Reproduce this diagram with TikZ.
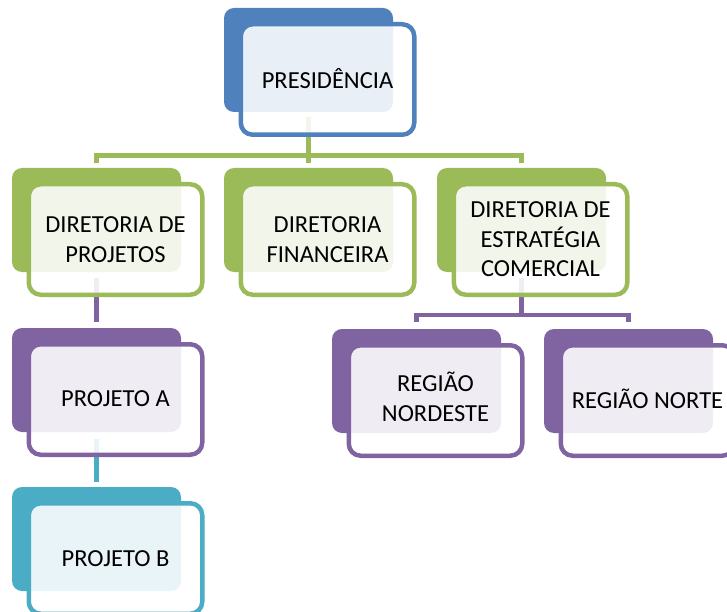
\documentclass[tikz,border=0pt]{standalone}
\usepackage{fontspec}
\setmainfont{Carlito}
\definecolor{cblue}{HTML}{4F81BD}
\definecolor{cgreen}{HTML}{9BBB59}
\definecolor{cpurple}{HTML}{8064A2}
\definecolor{cteal}{HTML}{4BACC6}
\begin{document}
\begin{tikzpicture}[x=1pt,y=-1pt,
  backbox/.style={fill=#1, draw=none, rounded corners=10pt, minimum width=169pt, minimum height=104pt, inner sep=0pt, outer sep=0pt},
  frontbox/.style={draw=#1, line width=4.5pt, fill=white, fill opacity=0.88, text opacity=1, rounded corners=12pt, minimum width=173.5pt, minimum height=110.5pt, inner sep=2pt, align=center, font=\fontsize{24.5}{29.5}\selectfont, text=black},
  conn/.style={draw=#1, line width=4.5pt}]
\useasboundingbox (0,0) rectangle (727,612);
\clip (0,0) rectangle (727,612);
% back boxes
\node[backbox=cblue]   (presB)  at (308.5,60)  {};
\node[backbox=cgreen]  (dprojB) at (96.5,220)  {};
\node[backbox=cgreen]  (dfinB)  at (308.5,220) {};
\node[backbox=cgreen]  (destB)  at (521.5,220) {};
\node[backbox=cpurple] (pjaB)   at (96.5,380)  {};
\node[backbox=cteal]   (pjbB)   at (96.5,539)  {};
\node[backbox=cpurple] (nordB)  at (416.5,381) {};
\node[backbox=cpurple] (norteB) at (628.5,381) {};
\coordinate (bus1) at (0,155.5);
\coordinate (bus2) at (0,315);
% connectors
\draw[conn=cgreen] ([yshift=-5pt]presB.south) -- ([yshift=5pt]dfinB.north);
\draw[conn=cgreen] ([yshift=5pt]dprojB.north) -- (dprojB.north |- bus1) -- (destB.north |- bus1) -- ([yshift=5pt]destB.north);
\draw[conn=cpurple] ([yshift=-6pt]dprojB.south) -- ([yshift=6pt]pjaB.north);
\draw[conn=cteal] ([yshift=-7pt]pjaB.south) -- ([yshift=5pt]pjbB.north);
\draw[conn=cpurple] ([yshift=-6pt]destB.south) -- (destB.south |- bus2);
\draw[conn=cpurple] ([yshift=7pt]nordB.north) -- (nordB.north |- bus2) -- (norteB.north |- bus2) -- ([yshift=7pt]norteB.north);
% front boxes
\node[frontbox=cblue]   (pres)  at (327.5,79.5)  {\raisebox{2.5pt}{PRESIDÊNCIA}};
\node[frontbox=cgreen]  (dproj) at (115.5,239.5) {DIRETORIA DE\\PROJETOS};
\node[frontbox=cgreen]  (dfin)  at (327.5,239.5) {DIRETORIA\\FINANCEIRA};
\node[frontbox=cgreen]  (dest)  at (540.5,239.5) {DIRETORIA DE\\ESTRATÉGIA\\COMERCIAL};
\node[frontbox=cpurple] (pja)   at (115.5,399.5) {\raisebox{1.5pt}{PROJETO A}};
\node[frontbox=cteal]   (pjb)   at (115.5,558.5) {PROJETO B};
\node[frontbox=cpurple] (nord)  at (435.5,400.5) {\raisebox{3pt}{\begin{tabular}{@{}c@{}}REGIÃO\\NORDESTE\end{tabular}}};
\node[frontbox=cpurple] (norte) at (647.5,400.5) {\raisebox{4pt}{REGIÃO NORTE}};
\end{tikzpicture}
\end{document}
